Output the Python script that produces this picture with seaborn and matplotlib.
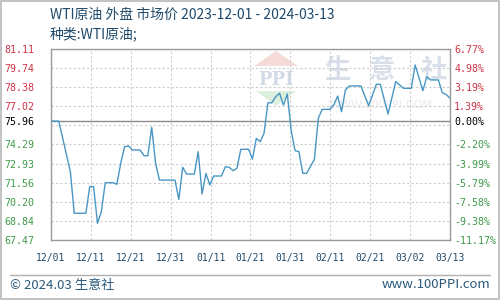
import numpy as np
import pandas as pd
import matplotlib
matplotlib.use("Agg")
import matplotlib.pyplot as plt
import matplotlib.dates as mdates
import seaborn as sns
from matplotlib.patches import Rectangle, Polygon
from matplotlib.lines import Line2D

# ---------------- data ----------------
start_date = "2023-12-01"
end_date = "2024-03-13"
day_offsets = [0, 2, 5, 6, 9, 10, 11, 12, 13, 14,
               16, 17, 18, 19, 20, 21, 23, 24, 25, 26,
               27, 28, 32, 33, 34, 35, 37, 38, 39, 40,
               41, 42, 44, 45, 46, 47, 48, 49, 51, 52,
               53, 54, 55, 56, 57, 58, 59, 60, 61, 62,
               63, 64, 65, 66, 68, 69, 70, 72, 73, 74,
               75, 76, 77, 80, 82, 84, 85, 87, 89, 91,
               93, 94, 96, 97, 98, 100, 101, 102, 103]
prices = [75.96, 75.96, 72.35, 69.38, 69.38, 71.28, 71.28, 68.66, 69.50, 71.56,
          71.56, 71.45, 72.95, 74.13, 74.18, 73.90, 73.90, 73.49, 73.49, 75.52,
          72.95, 71.75, 71.75, 70.38, 72.66, 72.18, 72.18, 73.78, 70.76, 72.23,
          71.40, 72.04, 72.04, 72.70, 72.66, 72.42, 72.59, 73.95, 73.95, 73.25,
          74.73, 74.49, 75.10, 77.27, 77.27, 77.70, 77.95, 77.10, 77.90, 75.30,
          73.85, 73.78, 72.23, 72.23, 73.23, 76.16, 76.80, 76.80, 77.11, 77.75,
          76.63, 78.18, 78.47, 78.47, 77.06, 78.59, 78.59, 76.47, 78.78, 78.30,
          78.30, 79.97, 78.13, 79.13, 78.90, 78.90, 77.99, 77.87, 77.59]
base_price = 75.96
y_tick_labels = ["81.11", "79.74", "78.38", "77.02", "75.96", "74.29",
                 "72.93", "71.56", "70.20", "68.84", "67.47"]
pct_tick_labels = ["6.77%", "4.98%", "3.19%", "1.39%", "0.00%", "-2.20%",
                   "-3.99%", "-5.79%", "-7.58%", "-9.38%", "-11.17%"]
x_tick_labels = ["12/01", "12/11", "12/21", "12/31", "01/11", "01/21",
                 "01/31", "02/11", "02/21", "03/02", "03/13"]
title = "WTI原油 外盘 市场价 2023-12-01 - 2024-03-13"
subtitle = "种类:WTI原油;"
footer_left = "© 2024.03 生意社"
footer_right = "www.100PPI.com"

# ---------------- style ----------------
sns.set_theme(style="white")
plt.rcParams['font.family'] = ['Noto Sans CJK SC', 'DejaVu Sans']

RED = "#cc3344"
GREEN = "#3f9a4a"
NAVY = "#1f4a6b"
LINE = "#4896c4"

fig = plt.figure(figsize=(5, 3), dpi=100)
fig.patch.set_facecolor("white")
ax = fig.add_axes([0.102, 0.2, 0.798, 0.6367])
ax.set_facecolor("white")

dates = pd.Timestamp(start_date) + pd.to_timedelta(day_offsets, unit="D")
df = pd.DataFrame({"date": dates, "price": prices})
sns.lineplot(data=df, x="date", y="price", ax=ax, color=LINE, lw=1.0, zorder=3)

ymin, ymax = float(y_tick_labels[-1]), float(y_tick_labels[0])
x0 = mdates.date2num(pd.Timestamp(start_date))
x1 = mdates.date2num(pd.Timestamp(end_date))
ax.set_xlim(x0, x1)
ax.set_ylim(ymin, ymax)

grid_x = np.linspace(x0, x1, len(x_tick_labels))
grid_y = np.linspace(ymin, ymax, len(y_tick_labels))
ax.xaxis.remove_overlapping_locs = False
ax.yaxis.remove_overlapping_locs = False
ax.set_xticks(grid_x, minor=True)
ax.set_yticks(grid_y, minor=True)
ax.grid(False)
ax.grid(which="minor", ls=(0, (2, 2)), color="#cccccc", lw=0.8)
ax.set_xticks(grid_x, x_tick_labels)
ax.set_yticks([float(s) for s in y_tick_labels], y_tick_labels)
ax.axhline(base_price, color="#8c8c8c", lw=1.0, zorder=2)
ax.set_xlabel("")
ax.set_ylabel("")

ax.tick_params(which="both", length=0)
ax.tick_params(axis="x", pad=9, labelsize=7, labelcolor=NAVY,
               labelfontfamily="DejaVu Sans Mono")
ax.tick_params(axis="y", pad=12, labelsize=7.2,
               labelfontfamily="DejaVu Sans Mono")
for lab in ax.get_yticklabels():
    v = float(lab.get_text())
    lab.set_color(RED if v > base_price else ("black" if v == base_price else GREEN))
for s in ax.spines.values():
    s.set_color("#9a9a9a")
    s.set_linewidth(1.0)

ax2 = ax.twinx()
ax2.set_ylim(ymin, ymax)
ax2.set_yticks([float(s) for s in y_tick_labels], pct_tick_labels)
ax2.tick_params(length=0, pad=3, labelsize=7.2, labelfontfamily="DejaVu Sans Mono")
for lab in ax2.get_yticklabels():
    t = lab.get_text()
    lab.set_color("black" if t == "0.00%" else (GREEN if t.startswith("-") else RED))
for s in ax2.spines.values():
    s.set_visible(False)
ax2.grid(False)

# watermark (behind the line)
wm_kw = dict(transform=fig.transFigure, zorder=0.5, ha="center", va="center")
for cx, ch in zip([337, 382, 434], "生意社"):
    ax.text(cx / 500, 1 - 71 / 300, ch, fontsize=19, fontweight="bold",
            color="#d9dfea", **wm_kw)
ax.text(381 / 500, 1 - 105 / 300, "WWW.100PPI.COM", fontsize=8,
        color="#e6eaf0", family="DejaVu Sans", **wm_kw)
ax.text(276 / 500, 1 - 80 / 300, "PPI", fontsize=13, fontweight="bold",
        color="#d3dae8", family="DejaVu Serif", **wm_kw)
ax.add_patch(Polygon([[254 / 500, 1 - 66 / 300], [298 / 500, 1 - 66 / 300],
                      [276 / 500, 1 - 51 / 300]], closed=True,
                     transform=fig.transFigure, fc="#f5dcd8", ec="none", zorder=0.4))
ax.add_patch(Polygon([[256 / 500, 1 - 91 / 300], [296 / 500, 1 - 91 / 300],
                      [276 / 500, 1 - 106 / 300]], closed=True,
                     transform=fig.transFigure, fc="#dcefdc", ec="none", zorder=0.4))

# titles
fig.text(50 / 500, 1 - 15 / 300, title, ha="left", va="center",
         fontsize=10, color=NAVY)
fig.text(50 / 500, 1 - 34 / 300, subtitle, ha="left", va="center",
         fontsize=10, color=NAVY)

# footer
fig.add_artist(Line2D([10 / 500, 490 / 500], [1 - 275 / 300] * 2,
                      transform=fig.transFigure, color="#b0b0b0", lw=1.0))
fig.text(10 / 500, 1 - 285 / 300, footer_left, ha="left", va="center",
         fontsize=9.5, color="#2b5a7c")
fig.text(490 / 500, 1 - 285 / 300, footer_right, ha="right", va="center",
         fontsize=9.5, color="#2b5a7c")
fig.add_artist(Rectangle((0.001, 0.002), 0.997, 0.995, transform=fig.transFigure,
                         fill=False, ec="#b8b8b8", lw=1.2))

fig.savefig("out.png", dpi=100)
